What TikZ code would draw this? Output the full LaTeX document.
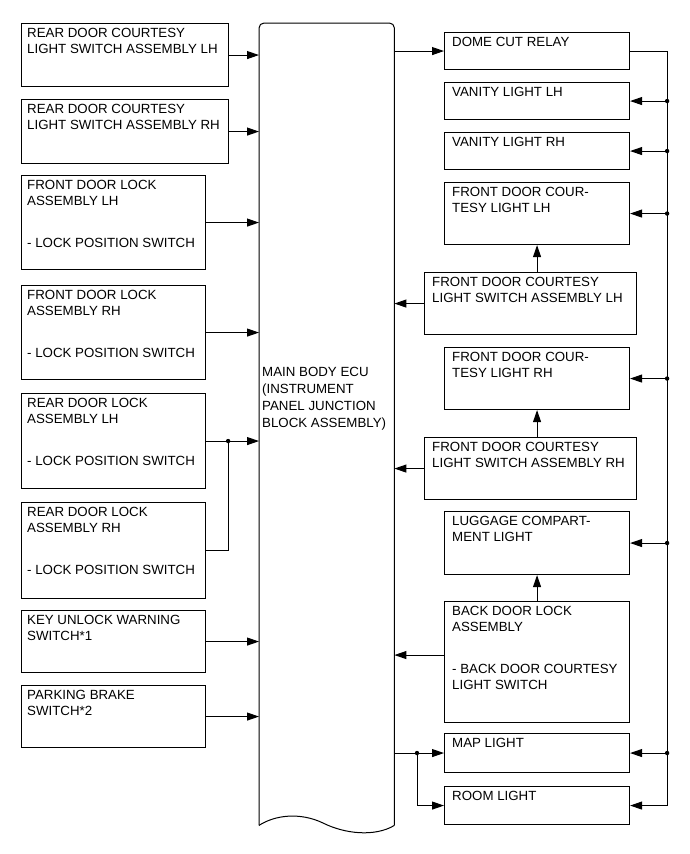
\documentclass[tikz,border=0pt]{standalone}
\usepackage{fontspec}
\setmainfont{Liberation Sans}
\usetikzlibrary{arrows.meta}

\tikzset{
  unit/.style={draw, rectangle, anchor=north west, inner sep=0pt, line width=1.1pt},
  lbl/.style={anchor=north west, align=left, inner sep=0pt, font=\fontsize{13.3}{16}\selectfont},
  wire/.style={line width=1pt},
  arr/.style={wire, -{Triangle[length=12pt,width=8pt]}},
}

\begin{document}
\begin{tikzpicture}[x=1pt, y=-1pt]
\useasboundingbox (0,0) rectangle (690,854);

% --- main body ECU ---
\node[minimum width=135, minimum height=802, anchor=north west, inner sep=0pt] (ecu) at (259,23) {};
\draw[wire, rounded corners=5pt] (ecu.south west) -- (ecu.north west) -- (ecu.north east) -- (ecu.south east);
\draw[wire] (ecu.south west) .. controls (275,815) and (300,812) .. (323,823)
  .. controls (345,834) and (375,837) .. (ecu.south east);
\node[lbl, font=\fontsize{13.3}{17}\selectfont] (ecu-t) at (262,367.2)
  {MAIN BODY ECU\\(INSTRUMENT\\PANEL JUNCTION\\BLOCK ASSEMBLY)};

% --- inputs (left column) ---
\foreach \name/\xx/\yy/\w/\h/\txt in {
  rdcLH/21/23/207/63/{REAR DOOR COURTESY\\LIGHT SWITCH ASSEMBLY LH},
  rdcRH/21/99/207/64/{REAR DOOR COURTESY\\LIGHT SWITCH ASSEMBLY RH},
  fdlkLH/21/175/184/94/{FRONT DOOR LOCK\\ASSEMBLY LH\\[26.3pt]- LOCK POSITION SWITCH},
  fdlkRH/21/285/184/94/{FRONT DOOR LOCK\\ASSEMBLY RH\\[26.3pt]- LOCK POSITION SWITCH},
  rdlkLH/21/393/184/95/{REAR DOOR LOCK\\ASSEMBLY LH\\[26.3pt]- LOCK POSITION SWITCH},
  rdlkRH/21/502/184/96/{REAR DOOR LOCK\\ASSEMBLY RH\\[26.3pt]- LOCK POSITION SWITCH},
  kuw/21/610/184/62/{KEY UNLOCK WARNING\\SWITCH*1},
  pkb/21/685/184/62/{PARKING BRAKE\\SWITCH*2}} {
  \node[unit, minimum width=\w, minimum height=\h] (\name) at (\xx,\yy) {};
  \node[lbl] (\name-t) at ([xshift=6pt, yshift=-4.8pt]\name.north west) {\txt};
}

% --- lights and switches (right column) ---
\foreach \name/\xx/\yy/\w/\h/\txt in {
  dcr/444/32/185/37/{DOME CUT RELAY},
  vanLH/444/82/185/37/{VANITY LIGHT LH},
  vanRH/444/132/185/37/{VANITY LIGHT RH},
  fdcLH/444/182/185/62/{FRONT DOOR COUR-\\TESY LIGHT LH},
  fdsLH/424/272/212/62/{FRONT DOOR COURTESY\\LIGHT SWITCH ASSEMBLY LH},
  fdcRH/444/347/185/62/{FRONT DOOR COUR-\\TESY LIGHT RH},
  fdsRH/424/437/212/62/{FRONT DOOR COURTESY\\LIGHT SWITCH ASSEMBLY RH},
  lug/444/511/185/63/{LUGGAGE COMPART-\\MENT LIGHT},
  bdl/444/601/185/121/{BACK DOOR LOCK\\ASSEMBLY\\[26.3pt]- BACK DOOR COURTESY\\LIGHT SWITCH},
  map/444/733/185/39/{MAP LIGHT},
  room/444/786/185/38/{ROOM LIGHT}} {
  \node[unit, minimum width=\w, minimum height=\h] (\name) at (\xx,\yy) {};
  \node[lbl] (\name-t) at ([xshift=8pt, yshift=-4.8pt]\name.north west) {\txt};
}

% --- inputs to ECU ---
\foreach \name in {rdcLH,rdcRH,fdlkLH,fdlkRH,kuw,pkb}
  \draw[arr] (\name.east) -- (\name.east -| ecu.west);

\coordinate (rj) at ([xshift=22pt]rdlkLH.east);
\draw[arr] (rdlkLH.east) -- (rdlkLH.east -| ecu.west);
\draw[wire] (rdlkRH.east) -| (rj);
\fill (rj) circle (2.2pt);

% --- right side ---
\draw[arr] (ecu.east |- dcr.west) -- (dcr.west);
\foreach \name in {fdsLH,fdsRH}
  \draw[arr] (\name.west) -- (\name.west -| ecu.east);
\draw[arr] ([yshift=7pt]bdl.west) -- ([yshift=7pt]bdl.west -| ecu.east);

\draw[arr] (fdsLH.north -| fdcLH.south) -- (fdcLH.south);
\draw[arr] (fdsRH.north -| fdcRH.south) -- (fdcRH.south);
\draw[arr] (bdl.north) -- (lug.south);

\coordinate (mj) at ([xshift=-27pt]map.west);
\draw[arr] (ecu.east |- map.west) -- (map.west);
\draw[arr] (mj) |- (room.west);
\fill (mj) circle (2.2pt);

% --- dome cut relay bus ---
\coordinate (bus) at ([xshift=37pt]dcr.east);
\draw[arr] (dcr.east) -| (bus |- room.east) -- (room.east);
\foreach \name in {vanLH,vanRH,fdcLH,fdcRH,lug,map} {
  \draw[arr] (bus |- \name.east) -- (\name.east);
  \fill (bus |- \name.east) circle (2.2pt);
}

\end{tikzpicture}
\end{document}
